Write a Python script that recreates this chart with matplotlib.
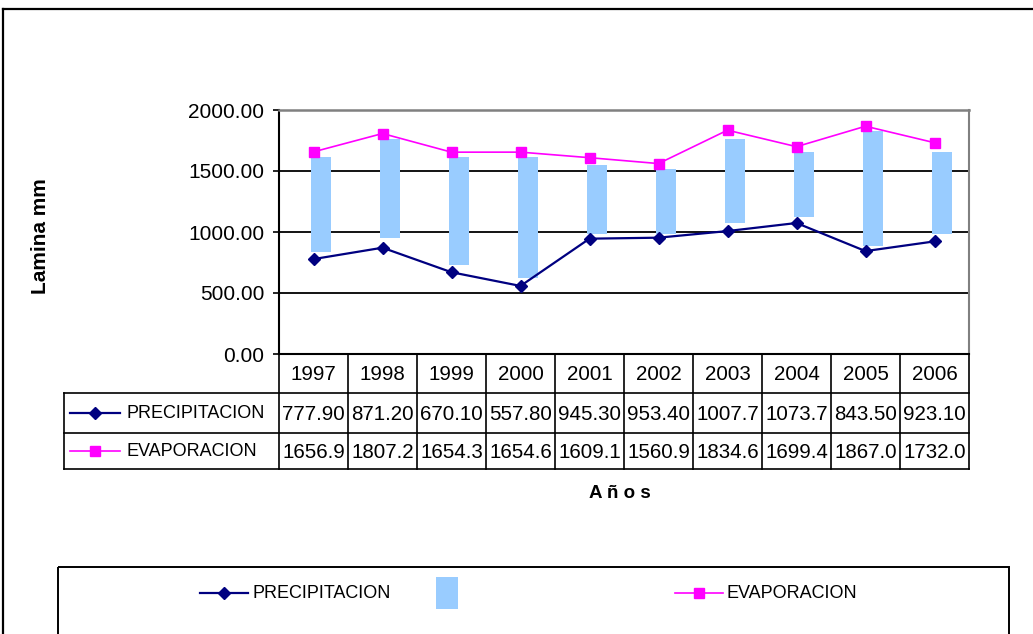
import matplotlib.pyplot as plt
import matplotlib.patches as mpatches
import numpy as np

years = ['1997', '1998', '1999', '2000', '2001', '2002', '2003', '2004', '2005', '2006']
precipitacion = [777.90, 871.20, 670.10, 557.80, 945.30, 953.40, 1007.7, 1073.7, 843.50, 923.10]
evaporacion = [1656.9, 1807.2, 1654.3, 1654.6, 1609.1, 1560.9, 1834.6, 1699.4, 1867.0, 1732.0]
precip_txt = ['777.90', '871.20', '670.10', '557.80', '945.30', '953.40', '1007.7', '1073.7', '843.50', '923.10']
evap_txt = ['1656.9', '1807.2', '1654.3', '1654.6', '1609.1', '1560.9', '1834.6', '1699.4', '1867.0', '1732.0']
# up-down bars as drawn by the spreadsheet
barra_inf = [840, 948, 732, 626, 981, 981, 1074, 1120, 888, 981]
barra_sup = [1612, 1762, 1612, 1612, 1549, 1519, 1765, 1658, 1830, 1658]

NAVY = '#000080'
MAGENTA = '#FF00FF'
CELESTE = '#99CCFF'
FONT = ['Liberation Sans', 'DejaVu Sans']

W, H = 1033, 634
fig = plt.figure(figsize=(W / 100, H / 100), dpi=100)

# overlay in pixel coordinates for frame, table and legend
ov = fig.add_axes([0, 0, 1, 1], zorder=0)
ov.set_xlim(0, W)
ov.set_ylim(H, 0)
ov.axis('off')

x0, x1, y_top, y_bot = 279, 969, 110, 354
ax = fig.add_axes([x0 / W, 1 - y_bot / H, (x1 - x0) / W, (y_bot - y_top) / H], zorder=1)

x = np.arange(len(years))
ax.bar(x + 0.11, np.array(barra_sup) - np.array(barra_inf), bottom=barra_inf,
       width=0.28, color=CELESTE, zorder=2)
ax.plot(x, precipitacion, color=NAVY, lw=1.6, marker='D', ms=6.5, zorder=3)
ax.plot(x, evaporacion, color=MAGENTA, lw=1.2, marker='s', ms=7.5, zorder=3)

ax.set_xlim(-0.5, len(years) - 0.5)
ax.set_ylim(0, 2000)
ax.set_yticks([0, 500, 1000, 1500, 2000])
ax.set_yticklabels(['%.2f' % v for v in [0, 500, 1000, 1500, 2000]])
ax.set_xticks([])
for v in [500, 1000, 1500]:
    ax.axhline(v, color='black', lw=1.3, zorder=1)
ax.tick_params(axis='y', length=4.5, width=1.2, pad=6, labelsize=15, direction='out')
for lab in ax.get_yticklabels():
    lab.set_family(FONT)
ax.spines['top'].set_color('#808080')
ax.spines['right'].set_color('#808080')
ax.spines['top'].set_linewidth(1.8)
ax.spines['right'].set_linewidth(1.5)
ax.spines['left'].set_linewidth(1.5)
ax.spines['bottom'].set_linewidth(1.5)

# outer chart frame
ov.plot([3, W], [9, 9], color='black', lw=1.6)
ov.plot([3, 3], [9, H], color='black', lw=1.6)

# data table under the plot
cw = (x1 - x0) / len(years)
r0, r1, r2, r3 = 354, 393, 433, 469
tl = 64
lk = dict(color='black', lw=1.2)
for k in range(len(years) + 1):
    ov.plot([x0 + k * cw] * 2, [r0, r3], **lk)
for r in [r1, r2, r3]:
    ov.plot([tl, x1], [r, r], **lk)
ov.plot([tl, tl], [r1, r3], **lk)

for i, y in enumerate(years):
    cx = x0 + (i + 0.5) * cw
    ov.text(cx, (r0 + r1) / 2 + 1, y, ha='center', va='center', fontsize=14.8, family=FONT)
    ov.text(cx, (r1 + r2) / 2 + 1, precip_txt[i], ha='center', va='center', fontsize=14.8, family=FONT)
    ov.text(cx, (r2 + r3) / 2 + 1, evap_txt[i], ha='center', va='center', fontsize=14.8, family=FONT)

ov.plot([70, 120], [413, 413], color=NAVY, lw=1.6)
ov.plot([95], [413], color=NAVY, marker='D', ms=6.5)
ov.text(126, 414, 'PRECIPITACION', ha='left', va='center', fontsize=13, family=FONT)
ov.plot([70, 120], [451, 451], color=MAGENTA, lw=1.2)
ov.plot([95], [451], color=MAGENTA, marker='s', ms=7.5)
ov.text(126, 452, 'EVAPORACION', ha='left', va='center', fontsize=13, family=FONT)

# axis titles
ov.text(40, 236, 'Lamina mm', rotation=90, ha='center', va='center',
        fontsize=15, fontweight='bold', family=FONT)
ov.text(620, 493, 'A ñ o s', ha='center', va='center', fontsize=13.5,
        fontweight='bold', family=FONT)

# legend box
ov.add_patch(mpatches.Rectangle((58, 567), 1009 - 58, 100, fill=False,
                                edgecolor='black', lw=1.4))
ov.plot([200, 248], [593, 593], color=NAVY, lw=1.6)
ov.plot([224], [593], color=NAVY, marker='D', ms=6.5)
ov.text(252, 594, 'PRECIPITACION', ha='left', va='center', fontsize=13, family=FONT)
ov.add_patch(mpatches.Rectangle((436, 577), 22, 32, color=CELESTE, lw=0))
ov.plot([675, 723], [593, 593], color=MAGENTA, lw=1.2)
ov.plot([699], [593], color=MAGENTA, marker='s', ms=7.5)
ov.text(727, 594, 'EVAPORACION', ha='left', va='center', fontsize=13, family=FONT)

fig.savefig('out.png', dpi=100, facecolor='white')
